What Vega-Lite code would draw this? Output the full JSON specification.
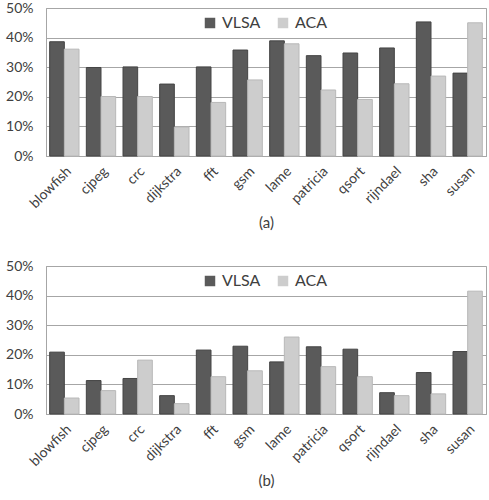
{
  "$schema": "https://vega.github.io/schema/vega-lite/v6.json",
  "padding": {"left": 5, "top": 0, "right": 0, "bottom": 0},
  "background": "white",
  "config": {
    "font": "Lato",
    "view": {"stroke": "#a6a6a6", "strokeWidth": 1},
    "axis": {"labelFont": "Lato", "labelColor": "#404040", "labelFontSize": 14, "titleFont": "Lato", "titleColor": "#404040", "titleFontWeight": "normal", "titleFontSize": 15},
    "legend": {"labelFont": "Lato", "labelColor": "#404040", "labelFontSize": 16}
  },
  "data": {"values": [
    {"panel": "a", "bench": "blowfish", "method": "VLSA", "value": 38.6},
    {"panel": "a", "bench": "blowfish", "method": "ACA", "value": 36.1},
    {"panel": "a", "bench": "cjpeg", "method": "VLSA", "value": 29.9},
    {"panel": "a", "bench": "cjpeg", "method": "ACA", "value": 20.1},
    {"panel": "a", "bench": "crc", "method": "VLSA", "value": 30.1},
    {"panel": "a", "bench": "crc", "method": "ACA", "value": 20.1},
    {"panel": "a", "bench": "dijkstra", "method": "VLSA", "value": 24.3},
    {"panel": "a", "bench": "dijkstra", "method": "ACA", "value": 9.8},
    {"panel": "a", "bench": "fft", "method": "VLSA", "value": 30.1},
    {"panel": "a", "bench": "fft", "method": "ACA", "value": 18.1},
    {"panel": "a", "bench": "gsm", "method": "VLSA", "value": 35.8},
    {"panel": "a", "bench": "gsm", "method": "ACA", "value": 25.7},
    {"panel": "a", "bench": "lame", "method": "VLSA", "value": 38.9},
    {"panel": "a", "bench": "lame", "method": "ACA", "value": 37.9},
    {"panel": "a", "bench": "patricia", "method": "VLSA", "value": 33.9},
    {"panel": "a", "bench": "patricia", "method": "ACA", "value": 22.3},
    {"panel": "a", "bench": "qsort", "method": "VLSA", "value": 34.8},
    {"panel": "a", "bench": "qsort", "method": "ACA", "value": 19.1},
    {"panel": "a", "bench": "rijndael", "method": "VLSA", "value": 36.5},
    {"panel": "a", "bench": "rijndael", "method": "ACA", "value": 24.4},
    {"panel": "a", "bench": "sha", "method": "VLSA", "value": 45.3},
    {"panel": "a", "bench": "sha", "method": "ACA", "value": 27.0},
    {"panel": "a", "bench": "susan", "method": "VLSA", "value": 28.0},
    {"panel": "a", "bench": "susan", "method": "ACA", "value": 45.0},
    {"panel": "b", "bench": "blowfish", "method": "VLSA", "value": 20.9},
    {"panel": "b", "bench": "blowfish", "method": "ACA", "value": 5.4},
    {"panel": "b", "bench": "cjpeg", "method": "VLSA", "value": 11.3},
    {"panel": "b", "bench": "cjpeg", "method": "ACA", "value": 7.9},
    {"panel": "b", "bench": "crc", "method": "VLSA", "value": 12.0},
    {"panel": "b", "bench": "crc", "method": "ACA", "value": 18.2},
    {"panel": "b", "bench": "dijkstra", "method": "VLSA", "value": 6.2},
    {"panel": "b", "bench": "dijkstra", "method": "ACA", "value": 3.5},
    {"panel": "b", "bench": "fft", "method": "VLSA", "value": 21.6},
    {"panel": "b", "bench": "fft", "method": "ACA", "value": 12.6},
    {"panel": "b", "bench": "gsm", "method": "VLSA", "value": 22.9},
    {"panel": "b", "bench": "gsm", "method": "ACA", "value": 14.6},
    {"panel": "b", "bench": "lame", "method": "VLSA", "value": 17.6},
    {"panel": "b", "bench": "lame", "method": "ACA", "value": 26.0},
    {"panel": "b", "bench": "patricia", "method": "VLSA", "value": 22.7},
    {"panel": "b", "bench": "patricia", "method": "ACA", "value": 16.0},
    {"panel": "b", "bench": "qsort", "method": "VLSA", "value": 21.9},
    {"panel": "b", "bench": "qsort", "method": "ACA", "value": 12.6},
    {"panel": "b", "bench": "rijndael", "method": "VLSA", "value": 7.2},
    {"panel": "b", "bench": "rijndael", "method": "ACA", "value": 6.2},
    {"panel": "b", "bench": "sha", "method": "VLSA", "value": 14.0},
    {"panel": "b", "bench": "sha", "method": "ACA", "value": 6.8},
    {"panel": "b", "bench": "susan", "method": "VLSA", "value": 21.1},
    {"panel": "b", "bench": "susan", "method": "ACA", "value": 41.5}
  ]},
  "spacing": 26,
  "resolve": {"legend": {"color": "independent"}, "scale": {"color": "independent"}},
  "vconcat": [
    {
      "width": 440, "height": 148,
      "transform": [{"filter": "datum.panel == 'a'"}],
      "mark": {"type": "bar", "strokeWidth": 1},
      "encoding": {
        "x": {"field": "bench", "type": "nominal", "sort": null,
              "scale": {"paddingInner": 0.2, "paddingOuter": 0.1},
              "axis": {"title": "(a)", "labelAngle": -45, "ticks": false, "domainColor": "#a6a6a6", "labelPadding": 8, "titlePadding": 5}},
        "xOffset": {"field": "method", "type": "nominal", "sort": ["VLSA", "ACA"], "scale": {"domain": ["VLSA", "ACA"]}},
        "y": {"field": "value", "type": "quantitative", "scale": {"domain": [0, 50]},
              "axis": {"values": [0, 10, 20, 30, 40, 50], "labelExpr": "datum.value + '%'", "title": null, "ticks": false, "domainColor": "#a6a6a6", "gridColor": "#a6a6a6", "labelPadding": 13}},
        "color": {"field": "method", "type": "nominal",
                  "scale": {"domain": ["VLSA", "ACA"], "range": ["#5a5a5a", "#cdcdcd"]},
                  "legend": {"orient": "none", "legendX": 156, "legendY": 7, "direction": "horizontal", "title": null, "symbolType": "square", "symbolSize": 110, "symbolStrokeWidth": 0, "columnPadding": 14}},
        "stroke": {"field": "method", "type": "nominal", "scale": {"domain": ["VLSA", "ACA"], "range": ["#444444", "#b8b8b8"]}, "legend": null}
      }
    },
    {
      "width": 440, "height": 148,
      "transform": [{"filter": "datum.panel == 'b'"}],
      "mark": {"type": "bar", "strokeWidth": 1},
      "encoding": {
        "x": {"field": "bench", "type": "nominal", "sort": null,
              "scale": {"paddingInner": 0.2, "paddingOuter": 0.1},
              "axis": {"title": "(b)", "labelAngle": -45, "ticks": false, "domainColor": "#a6a6a6", "labelPadding": 8, "titlePadding": 5}},
        "xOffset": {"field": "method", "type": "nominal", "sort": ["VLSA", "ACA"], "scale": {"domain": ["VLSA", "ACA"]}},
        "y": {"field": "value", "type": "quantitative", "scale": {"domain": [0, 50]},
              "axis": {"values": [0, 10, 20, 30, 40, 50], "labelExpr": "datum.value + '%'", "title": null, "ticks": false, "domainColor": "#a6a6a6", "gridColor": "#a6a6a6", "labelPadding": 13}},
        "color": {"field": "method", "type": "nominal",
                  "scale": {"domain": ["VLSA", "ACA"], "range": ["#5a5a5a", "#cdcdcd"]},
                  "legend": {"orient": "none", "legendX": 156, "legendY": 7, "direction": "horizontal", "title": null, "symbolType": "square", "symbolSize": 110, "symbolStrokeWidth": 0, "columnPadding": 14}},
        "stroke": {"field": "method", "type": "nominal", "scale": {"domain": ["VLSA", "ACA"], "range": ["#444444", "#b8b8b8"]}, "legend": null}
      }
    }
  ]
}
